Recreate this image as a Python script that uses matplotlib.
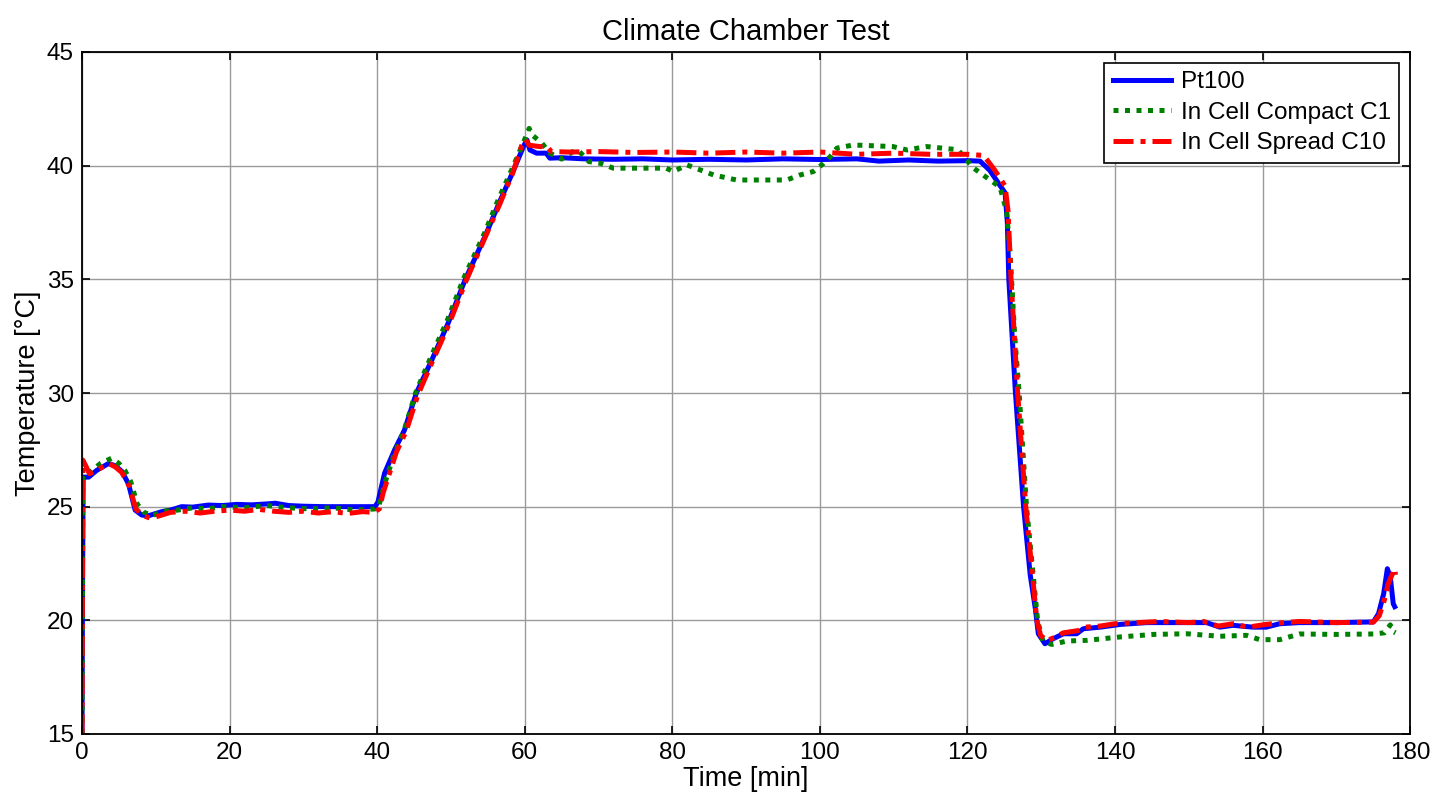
import matplotlib
matplotlib.use("Agg")
import matplotlib.pyplot as plt

plt.rcParams["font.family"] = ["Liberation Sans", "DejaVu Sans"]

# Pt100 reference sensor
t_pt100 = [0, 0.05, 0.15, 0.9, 2.0, 3.6, 4.5, 5.4, 6.3, 7.2, 8.1, 9.0, 10.0, 10.8, 12.0,
           13.5, 15.0, 17.1, 19.0, 21.0, 23.0, 25.0, 26.2, 28.0, 30.0, 33.0, 36.0, 39.7,
           40.1, 41.0, 42.36, 43.7, 45.3, 47.4, 49.6, 51.9, 54.6, 56.5, 58.3, 59.9, 60.3,
           60.7, 61.6, 62.9, 63.4, 65, 68, 72, 76, 80, 85, 90, 95, 100, 105, 108, 112, 116,
           120, 121.7, 123.0, 125.1, 125.4, 125.6, 126.5, 127.6, 128.5, 129.2, 129.6, 130.5,
           131.6, 133.0, 134.8, 135.7, 138.0, 140.7, 144.3, 148.8, 152.4, 154.2, 156.0,
           158.7, 160.5, 162.3, 165, 170, 175.0, 175.7, 176.4, 176.9, 177.3, 177.7, 177.9]
v_pt100 = [15.0, 20.0, 26.3, 26.3, 26.6, 26.9, 26.8, 26.55, 26.0, 24.85, 24.63, 24.6, 24.7,
           24.78, 24.85, 25.0, 24.98, 25.07, 25.05, 25.1, 25.08, 25.12, 25.15, 25.05, 25.02,
           25.0, 25.0, 25.0, 25.2, 26.47, 27.5, 28.37, 29.99, 31.45, 33.06, 34.97, 36.88,
           38.34, 39.66, 40.9, 41.13, 40.69, 40.55, 40.55, 40.33, 40.35, 40.3, 40.28, 40.3,
           40.25, 40.28, 40.25, 40.3, 40.27, 40.3, 40.2, 40.25, 40.2, 40.22, 40.2, 39.8,
           38.8, 37.5, 35.0, 30.0, 25.0, 22.0, 20.5, 19.41, 18.97, 19.19, 19.41, 19.41,
           19.63, 19.7, 19.82, 19.9, 19.9, 19.9, 19.7, 19.78, 19.7, 19.7, 19.85, 19.9, 19.9,
           19.93, 20.29, 21.17, 22.27, 21.9, 20.73, 20.6]

# In Cell Compact C1
t_c1 = [0, 0.05, 0.1, 1.0, 2.5, 4.0, 5.0, 5.8, 6.6, 7.5, 8.4, 9.5, 11, 13, 15, 17, 19, 22,
        25, 28, 31, 34, 37, 39.7, 40.2, 41.0, 42.3, 43.6, 45.2, 47.3, 49.5, 51.8, 54.5,
        56.4, 58.2, 59.8, 60.6, 61.0, 62.3, 63.4, 65.0, 66.5, 67.4, 68.7, 70.3, 72.0, 79.2,
        80.1, 82.0, 85.6, 88.7, 95.5, 97.3, 99.1, 100.5, 101.4, 102.3, 104.5, 109.9, 111.8,
        114.5, 118.7, 120.8, 122.5, 124.4, 125.3, 125.8, 126.4, 127.0, 128.0, 129.5, 130.2,
        131.4, 133.5, 136.2, 140.7, 145.2, 149.7, 154.2, 157.8, 159.6, 162.3, 165, 170, 175,
        176.5, 177.3, 177.7, 178.0]
v_c1 = [15.0, 20.0, 26.4, 26.5, 26.9, 27.13, 26.9, 26.6, 26.1, 25.1, 24.75, 24.6, 24.8,
        24.85, 24.95, 24.9, 25.0, 24.95, 25.05, 24.95, 24.9, 24.95, 24.85, 24.9, 25.0, 26.0,
        27.3, 28.3, 30.0, 31.6, 33.2, 35.1, 37.0, 38.5, 39.8, 41.0, 41.64, 41.35, 41.0,
        40.55, 40.29, 40.62, 40.62, 40.18, 40.1, 39.89, 39.89, 39.74, 40.03, 39.59, 39.37,
        39.37, 39.59, 39.74, 40.1, 40.4, 40.77, 40.91, 40.84, 40.69, 40.84, 40.7, 39.9, 39.5,
        39.06, 38.0, 36.0, 32.5, 30.0, 25.0, 20.0, 19.1, 18.94, 19.09, 19.12, 19.27, 19.38,
        19.41, 19.3, 19.34, 19.15, 19.15, 19.4, 19.38, 19.4, 19.45, 19.8, 19.5, 19.45]

# In Cell Spread C10
t_c10 = [0, 0.05, 0.1, 0.5, 1.0, 2.0, 3.6, 4.5, 5.4, 6.4, 7.3, 8.3, 9.3, 10.5, 12, 14, 16,
         18, 20, 22, 24, 26, 28, 30, 32, 34, 36, 38, 39.5, 40.3, 40.8, 41.5, 42.6, 43.9,
         45.5, 47.5, 49.7, 52.0, 54.7, 56.6, 58.4, 59.6, 60.1, 60.6, 62, 63, 63.6, 66, 70,
         75, 80, 85, 90, 95, 100, 105, 110, 115, 120, 122.2, 123.7, 125.1, 125.5, 125.9,
         126.8, 127.9, 129.4, 129.9, 130.7, 131.8, 133, 135, 136, 138, 140, 143, 146, 150,
         152, 154, 156, 158, 160, 162, 165, 170, 175, 175.8, 176.5, 177.0, 177.4, 177.9, 178.0]
v_c10 = [15.0, 21.0, 27.05, 26.8, 26.45, 26.6, 26.9, 26.75, 26.5, 25.9, 24.9, 24.6, 24.49,
         24.6, 24.75, 24.8, 24.72, 24.8, 24.85, 24.8, 24.88, 24.8, 24.75, 24.8, 24.72, 24.78,
         24.7, 24.78, 24.75, 24.9, 25.6, 26.3, 27.4, 28.3, 29.9, 31.4, 33.0, 34.9, 36.9,
         38.3, 39.7, 40.9, 41.15, 40.9, 40.84, 40.84, 40.62, 40.6, 40.62, 40.58, 40.6, 40.55,
         40.6, 40.55, 40.6, 40.5, 40.55, 40.5, 40.5, 40.45, 39.8, 39.1, 38.0, 35.0, 30.0,
         25.0, 20.0, 19.35, 19.1, 19.25, 19.45, 19.55, 19.7, 19.75, 19.85, 19.9, 19.95, 19.9,
         19.95, 19.75, 19.85, 19.7, 19.8, 19.88, 19.95, 19.9, 19.92, 20.2, 20.9, 21.6, 21.9,
         22.27, 22.0]

x_ticks = list(range(0, 181, 20))
y_ticks = list(range(15, 46, 5))

fig = plt.figure(figsize=(14.39, 8), dpi=100, facecolor="white")
ax = fig.add_axes([0.057, 0.0825, 0.923, 0.8525])

ax.plot(t_pt100, v_pt100, color="#0000FF", linewidth=3.6, label="Pt100")
ax.plot(t_c1, v_c1, color="#008000", linewidth=3.6, linestyle=(0, (1, 1.3)),
        label="In Cell Compact C1")
ax.plot(t_c10, v_c10, color="#FF0000", linewidth=3.6, linestyle=(0, (4, 1.4, 1, 1.4)),
        label="In Cell Spread C10")

ax.set_xlim(0, 180)
ax.set_ylim(15, 45)
ax.set_xticks(x_ticks)
ax.set_yticks(y_ticks)
ax.grid(True, color="#9A9A9A", linewidth=1.0)
ax.set_axisbelow(True)
ax.tick_params(direction="in", top=True, right=True, labelsize=17.5, length=6,
               width=1.2, pad=6)
for spine in ax.spines.values():
    spine.set_linewidth(1.3)

ax.set_title("Climate Chamber Test", fontsize=21, pad=9)
ax.set_xlabel("Time [min]", fontsize=19.5, labelpad=1)
ax.set_ylabel("Temperature [°C]", fontsize=19.5, labelpad=4)

leg = ax.legend(loc="upper right", fontsize=17.5, fancybox=False, framealpha=1,
                edgecolor="black", handlelength=2.4, borderaxespad=0.45,
                labelspacing=0.35, handletextpad=0.4, borderpad=0.35)
leg.get_frame().set_linewidth(1.2)

fig.savefig("out.png", dpi=100, facecolor="white")
